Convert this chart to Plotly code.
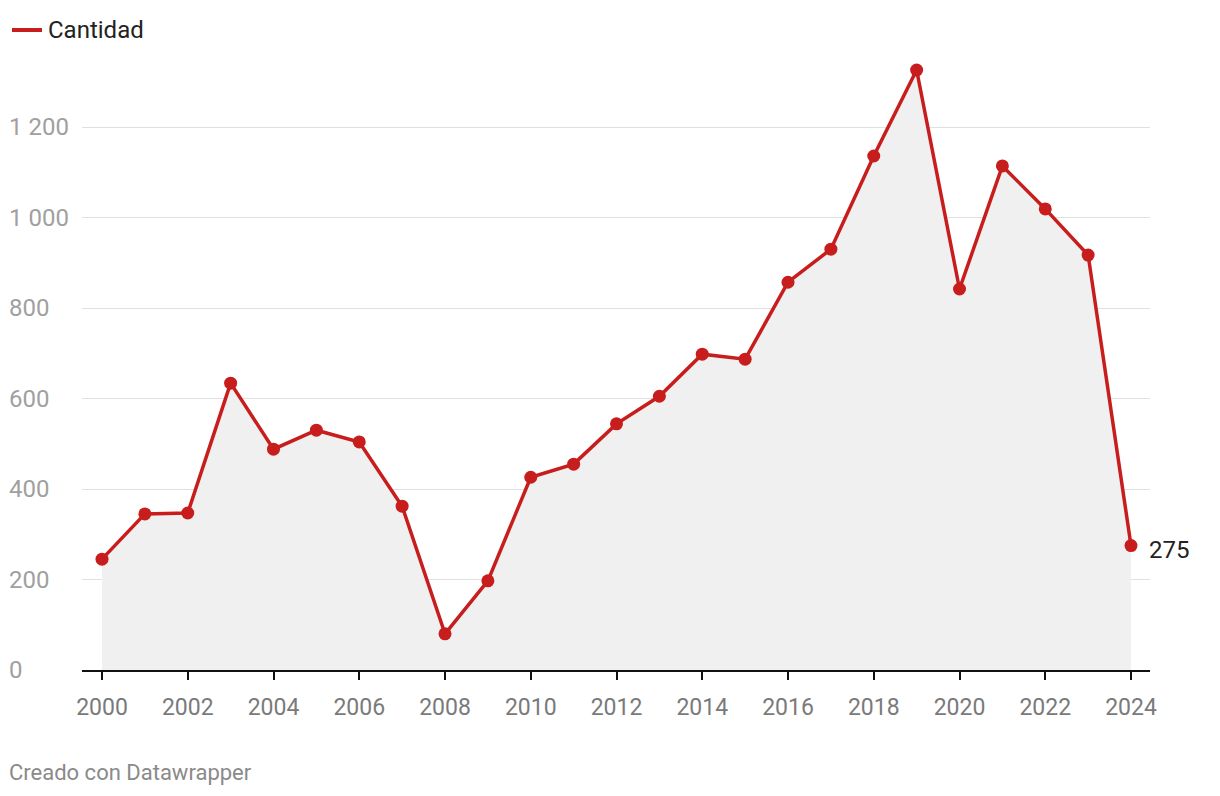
import plotly.graph_objects as go

years = list(range(2000, 2025))
cantidad = [245, 345, 347, 634, 488, 530, 504, 362, 80, 197, 426, 455, 544,
            605, 698, 687, 857, 930, 1136, 1326, 842, 1114, 1019, 917, 275]
y_ticks = [0, 200, 400, 600, 800, 1000, 1200]
y_tick_labels = ["0", "200", "400", "600", "800", "1 000", "1 200"]
x_ticks = list(range(2000, 2025, 2))
x_tick_labels = [str(v) for v in x_ticks]

RED = "#c71e1d"
W, H = 1220, 796
ML, MR, MT, MB = 82, 70, 56, 126
pw = W - ML - MR
ph = H - MT - MB

fig = go.Figure()
fig.add_trace(go.Scatter(
    x=years, y=cantidad, mode="lines+markers", name="Cantidad",
    line=dict(color=RED, width=3.5), marker=dict(color=RED, size=13),
    fill="tozeroy", fillcolor="#f0f0f0", hoverinfo="skip", showlegend=False,
))

annotations = []
for v, t in zip(y_ticks, y_tick_labels):
    annotations.append(dict(
        x=(7 - ML) / pw, xref="paper", y=v, yref="y", text=t, showarrow=False,
        xanchor="left", yanchor="middle",
        font=dict(family="Roboto", size=24, color="#a0a0a0"),
    ))
annotations.append(dict(
    x=years[-1], y=cantidad[-1], xref="x", yref="y", text=str(cantidad[-1]),
    showarrow=False, xanchor="left", yanchor="middle", xshift=16, yshift=-4,
    font=dict(family="Roboto", size=24, color="#222222"),
))
ly = 1 + (MT - 30) / ph
annotations.append(dict(
    x=(46 - ML) / pw, xref="paper", y=ly,
    yref="paper", text="Cantidad", showarrow=False, xanchor="left", yanchor="middle",
    font=dict(family="Roboto", size=24, color="#222222"),
))
annotations.append(dict(
    x=(7 - ML) / pw, xref="paper", y=-(772 - (H - MB)) / ph,
    yref="paper", text="Creado con Datawrapper", showarrow=False,
    xanchor="left", yanchor="middle",
    font=dict(family="Roboto", size=22, color="#8a8a8a"),
))

shapes = [dict(type="line", xref="paper", yref="paper",
               x0=(12 - ML) / pw, x1=(42 - ML) / pw, y0=ly, y1=ly,
               line=dict(color=RED, width=4))]

fig.update_layout(
    width=W, height=H, margin=dict(l=ML, r=MR, t=MT, b=MB),
    paper_bgcolor="white", plot_bgcolor="white",
    font=dict(family="Roboto"),
    showlegend=False, hovermode=False,
    annotations=annotations, shapes=shapes,
    xaxis=dict(
        range=[2000 - 20 / 42.875, 2024 + 19 / 42.875],
        tickvals=x_ticks, ticktext=x_tick_labels,
        showgrid=False, zeroline=False,
        showline=True, linecolor="#111111", linewidth=2,
        ticks="outside", ticklen=8, tickwidth=2, tickcolor="#111111",
        tickfont=dict(family="Roboto", size=23, color="#7a7a7a"),
        ticklabelstandoff=7,
        fixedrange=True,
    ),
    yaxis=dict(
        range=[0, 1357], tickvals=y_ticks, showticklabels=False,
        showgrid=True, gridcolor="#e0e0e0", gridwidth=1,
        zeroline=False, showline=False, fixedrange=True,
    ),
)

fig.write_html("out.html")
